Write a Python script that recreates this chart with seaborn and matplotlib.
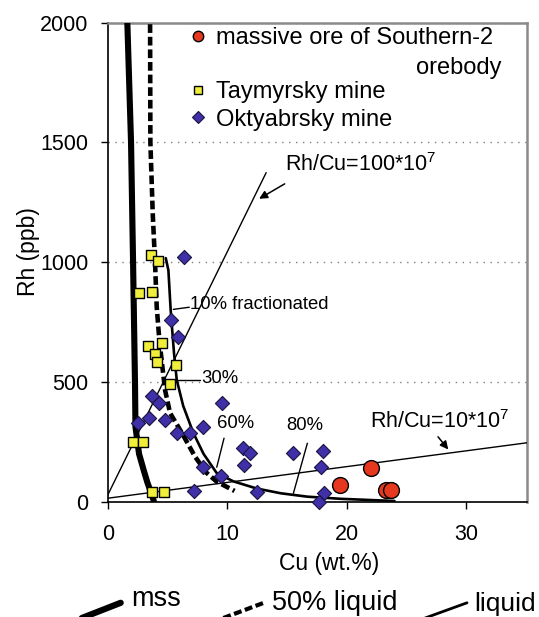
import matplotlib
matplotlib.use("Agg")
import matplotlib.pyplot as plt
import seaborn as sns
from matplotlib.lines import Line2D

# ---------------- data ----------------
ore_cu = [22.05, 19.4, 23.3, 23.7]
ore_rh = [139, 70, 47, 50]

tay_cu = [3.58, 4.22, 2.60, 3.66, 3.38, 4.50, 3.94, 4.13, 5.70, 5.20, 2.12, 2.91, 3.66, 4.72]
tay_rh = [1030, 1006, 873, 874, 650, 661, 615, 585, 571, 493, 250, 250, 39, 42]

okt_cu = [6.37, 5.26, 5.89, 3.66, 4.30, 2.49, 3.46, 4.78, 5.76, 6.87, 7.94, 9.53,
          7.94, 7.21, 11.34, 11.90, 11.43, 15.53, 18.0, 17.85, 9.50, 12.46, 18.1, 17.7]
okt_rh = [1020, 759, 689, 441, 411, 330, 348, 341, 288, 286, 313, 413,
          146, 44, 223, 202, 153, 202, 213, 144, 108, 42, 38, 0]

# fractionation curves
mss_cu = [1.50, 1.62, 1.93, 2.10, 2.26, 2.30, 2.60, 3.00, 3.30, 3.70, 3.85]
mss_rh = [2300, 2000, 1500, 1000, 500, 313, 200, 130, 80, 25, 0]

half_cu = [3.52, 3.55, 3.75, 3.94, 4.08, 4.30, 4.78, 5.20, 6.18, 7.29, 8.27, 9.10, 10.6]
half_rh = [2100, 1500, 1200, 1000, 814, 675, 466, 370, 288, 188, 120, 84, 45]

liq_cu = [4.84, 5.06, 5.25, 5.53, 5.76, 6.30, 7.15, 8.00, 9.10, 10.5, 12.46, 14.5, 16.7, 19.5, 22.0, 24.0]
liq_rh = [1017, 966, 800, 620, 508, 400, 287, 200, 120, 85, 55, 35, 21, 12, 7, 3]

# Rh/Cu reference lines
r100_cu = [-0.1, 13.25]
r100_rh = [20, 1374]
r10_cu = [-0.1, 35.1]
r10_rh = [14, 246]

x_ticks = [0, 10, 20, 30]
y_ticks = [0, 500, 1000, 1500, 2000]

# ---------------- style ----------------
sns.set_style("ticks")
plt.rcParams["font.family"] = ["Liberation Sans", "DejaVu Sans"]
plt.rcParams["mathtext.fontset"] = "custom"
plt.rcParams["mathtext.rm"] = "Liberation Sans"
plt.rcParams["mathtext.it"] = "Liberation Sans:italic"
for k in ["text.color", "axes.labelcolor", "xtick.color", "ytick.color"]:
    plt.rcParams[k] = "black"

W, H = 539, 617
fig = plt.figure(figsize=(W / 100, H / 100), dpi=100)
L, R, T, B = 108, 527, 22.7, 501.7
ax = fig.add_axes([L / W, 1 - B / H, (R - L) / W, (B - T) / H])

RED = "#e5381f"
YEL = "#f0ee3a"
BLU = "#3f30a8"
DASH = (0, (1.9, 0.85))

# curves
sns.lineplot(x=mss_cu, y=mss_rh, sort=False, estimator=None, color="black", lw=4.4, ax=ax, zorder=3)
sns.lineplot(x=half_cu, y=half_rh, sort=False, estimator=None, color="black", lw=3.3,
             linestyle=DASH, ax=ax, zorder=3)
sns.lineplot(x=liq_cu, y=liq_rh, sort=False, estimator=None, color="black", lw=1.9, ax=ax, zorder=3)
sns.lineplot(x=r100_cu, y=r100_rh, sort=False, estimator=None, color="black", lw=1.0, ax=ax, zorder=3)
sns.lineplot(x=r10_cu, y=r10_rh, sort=False, estimator=None, color="black", lw=1.0, ax=ax, zorder=3)

# points
sns.scatterplot(x=tay_cu, y=tay_rh, marker="s", s=42, color=YEL, edgecolor="black",
                linewidth=1.0, ax=ax, zorder=5)
sns.scatterplot(x=okt_cu, y=okt_rh, marker="D", s=52, color=BLU, edgecolor="#1a1440",
                linewidth=0.8, ax=ax, zorder=6, clip_on=False)
sns.scatterplot(x=ore_cu, y=ore_rh, marker="o", s=130, color=RED, edgecolor="black",
                linewidth=1.0, ax=ax, zorder=7)

# axes
ax.set_xlim(0, 35.1)
ax.set_ylim(0, 2000)
ax.set_xticks(x_ticks)
ax.set_yticks(y_ticks)
ax.tick_params(direction="out", length=5, width=1, colors="black", labelsize=15.5)
ax.tick_params(axis="x", pad=11)
ax.tick_params(axis="y", pad=9)
ax.yaxis.grid(True, color="#808080", lw=1, ls=(0, (1, 4)))
ax.set_axisbelow(True)
for s in ["left", "bottom"]:
    ax.spines[s].set_color("black")
    ax.spines[s].set_linewidth(1.2)
for s in ["top", "right"]:
    ax.spines[s].set_color("#8a8a8a")
    ax.spines[s].set_linewidth(1.8)
    ax.spines[s].set_visible(True)

ax.set_xlabel("Cu (wt.%)", fontsize=16.5)
ax.set_ylabel("Rh (ppb)", fontsize=16.5)
ax.xaxis.set_label_coords((329 - L) / (R - L), (B - 563.8) / (B - T))
ax.xaxis.label.set_va("center")
ax.yaxis.set_label_coords((29 - L) / (R - L), (B - 252) / (B - T))
ax.yaxis.label.set_va("center")

# annotations
ax.plot([5.47, 6.81], [803, 812], color="black", lw=1)
ax.text(6.87, 825, "10% fractionated", fontsize=13.3, va="center", ha="left")
ax.plot([5.76, 7.71], [508, 508], color="black", lw=1)
ax.text(7.85, 515, "30%", fontsize=13.3, va="center", ha="left")
ax.plot([9.72, 9.11], [265, 144], color="black", lw=1)
ax.text(9.17, 327, "60%", fontsize=13.3, va="center", ha="left")
ax.plot([16.7, 15.53], [244, 35], color="black", lw=1)
ax.text(14.92, 320, "80%", fontsize=13.3, va="center", ha="left")

ax.text(14.84, 1406, "Rh/Cu=100*10$^7$", fontsize=15.5, va="center", ha="left")
ax.annotate("", xy=(12.46, 1259), xytext=(15.0, 1333),
            arrowprops=dict(arrowstyle="-|>", color="black", lw=1.1, mutation_scale=12))
ax.text(21.96, 334, "Rh/Cu=10*10$^7$", fontsize=15.5, va="center", ha="left")
ax.annotate("", xy=(28.65, 209), xytext=(27.5, 280),
            arrowprops=dict(arrowstyle="-|>", color="black", lw=1.1, mutation_scale=12))

# legend (top right)
handles = [
    Line2D([], [], ls="none", marker="o", ms=7.5, mfc=RED, mec="black", mew=1),
    Line2D([], [], ls="none", marker="none"),
    Line2D([], [], ls="none", marker="s", ms=6.2, mfc=YEL, mec="black", mew=1),
    Line2D([], [], ls="none", marker="D", ms=6.4, mfc=BLU, mec="#1a1440", mew=0.8),
]
labels = ["massive ore of Southern-2", " ", "Taymyrsky mine", "Oktyabrsky mine"]
leg = ax.legend(handles, labels, loc="upper left", bbox_to_anchor=(189 / W, 1 - 27 / H),
                bbox_transform=fig.transFigure, frameon=False, fontsize=17,
                handlelength=0.75, handletextpad=0.4, labelspacing=0.22, borderpad=0,
                borderaxespad=0)
fig.text(501.7 / W, 1 - 68.3 / H, "orebody", fontsize=17, ha="right", va="center")

# bottom legend
fig.add_artist(Line2D([79.3 / W, 120.7 / W], [1 - 619 / H, 1 - 602.8 / H], lw=4.5, color="black"))
fig.text(131 / W, 1 - 606 / H, "mss", fontsize=19.5, va="baseline", ha="left")
fig.add_artist(Line2D([220.7 / W, 263.8 / W], [1 - 619 / H, 1 - 602.8 / H], lw=3.0, color="black",
                      ls=DASH))
fig.text(272 / W, 1 - 610.5 / H, "50% liquid", fontsize=19.5, va="baseline", ha="left")
fig.add_artist(Line2D([422.4 / W, 467 / W], [1 - 619 / H, 1 - 602.8 / H], lw=2.0, color="black"))
fig.text(474 / W, 1 - 610.5 / H, "liquid", fontsize=19, va="baseline", ha="left")

fig.savefig("out.png", dpi=100)
